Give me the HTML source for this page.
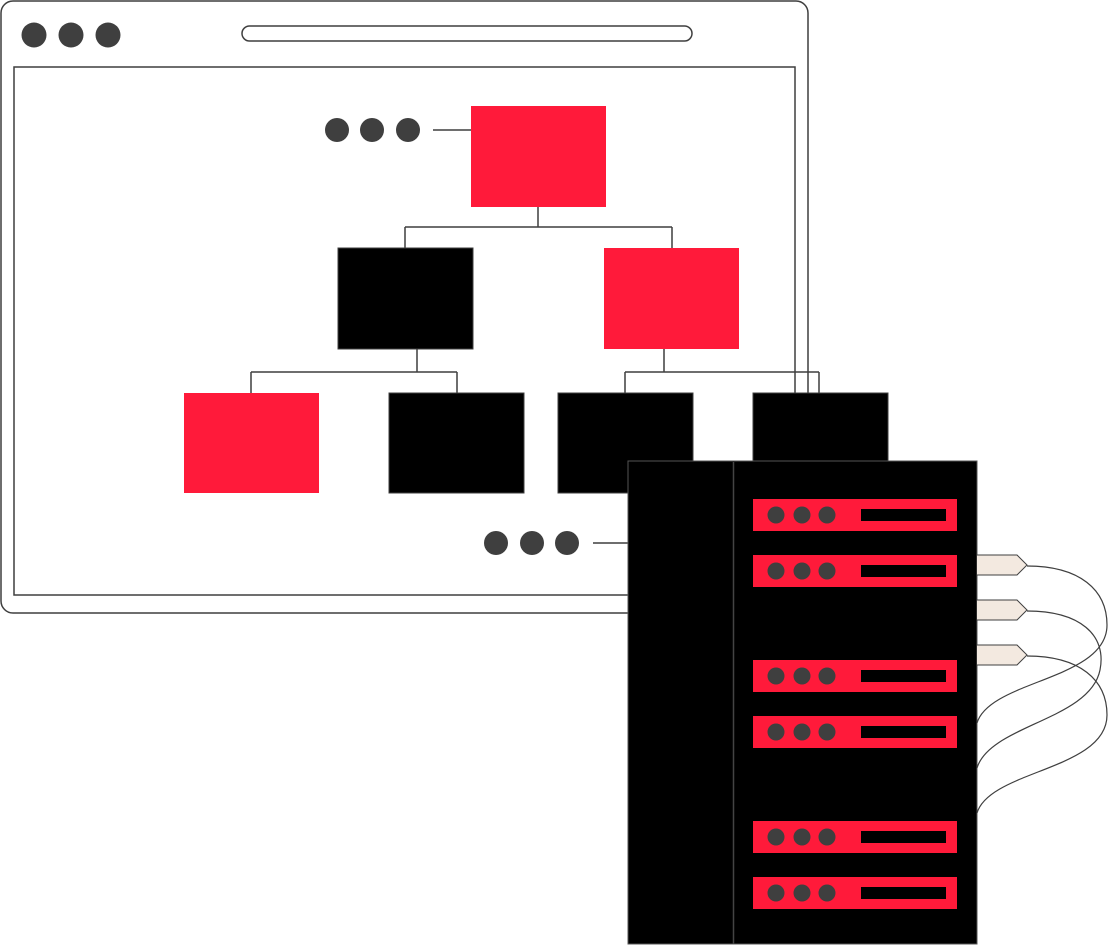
<!DOCTYPE html>
<html><head><style>body{margin:0;background:#fff}svg{display:block}</style></head><body>
<svg width="1108" height="945" viewBox="0 0 1108 945" xmlns="http://www.w3.org/2000/svg">
<g stroke="#3f3f3f" stroke-width="1.5" fill="none">
<rect x="1" y="1" width="807" height="612" rx="12"/>
<rect x="14" y="67" width="781" height="528"/>
<rect x="242" y="26" width="450" height="15" rx="7.5"/>
<path d="M433 130H507M538 207V227M405 227H672M405 227V248M672 227V248M417 349V372M251 372H457M251 372V393M457 372V393M664 349V372M625 372H819M625 372V393M819 372V393M593 543H628"/>
</g>
<g fill="#3f3f3f">
<circle cx="34" cy="35" r="12.5"/><circle cx="71" cy="35" r="12.5"/><circle cx="108" cy="35" r="12.5"/>
<circle cx="337" cy="130" r="12"/><circle cx="372" cy="130" r="12"/><circle cx="408" cy="130" r="12"/>
<circle cx="496" cy="543" r="12"/><circle cx="532" cy="543" r="12"/><circle cx="567" cy="543" r="12"/>
</g>
<g stroke="#3f3f3f" stroke-width="1">
<rect x="471" y="106" width="135" height="101" fill="#ff1a3a" stroke="none"/>
<rect x="338" y="248" width="135" height="101" fill="#000"/>
<rect x="604" y="248" width="135" height="101" fill="#ff1a3a" stroke="none"/>
<rect x="184" y="393" width="135" height="100" fill="#ff1a3a" stroke="none"/>
<rect x="389" y="393" width="135" height="100" fill="#000"/>
<rect x="558" y="393" width="135" height="100" fill="#000"/>
<rect x="753" y="393" width="135" height="100" fill="#000"/>
</g>
<rect x="628" y="461" width="349" height="483" fill="#000" stroke="#555" stroke-width="1"/>
<line x1="733.5" y1="462" x2="733.5" y2="944" stroke="#444" stroke-width="1.5"/>
<g id="s">
<rect x="753" y="499" width="204" height="32" fill="#ff1a3a"/>
<rect x="861" y="509" width="85" height="12" fill="#000"/>
<circle cx="776" cy="515" r="8.5" fill="#3f3f3f"/><circle cx="802" cy="515" r="8.5" fill="#3f3f3f"/><circle cx="827" cy="515" r="8.5" fill="#3f3f3f"/>
</g>
<use href="#s" y="56"/><use href="#s" y="161"/><use href="#s" y="217"/><use href="#s" y="322"/><use href="#s" y="378"/>
<g fill="#f3e9e0" stroke="#3f3f3f" stroke-width="1">
<path d="M977 555H1017L1027 565L1017 575H977"/>
<path d="M977 600H1017L1027 610L1017 620H977"/>
<path d="M977 645H1017L1027 655L1017 665H977"/>
</g>
<g fill="none" stroke="#3f3f3f" stroke-width="1.2">
<path d="M1027 566C1080 566 1107 590 1107 625C1107 680 990 680 977 723"/>
<path d="M1027 611C1080 611 1107 635 1100 670C1090 720 990 725 977 768"/>
<path d="M1027 656C1080 656 1107 680 1107 715C1107 770 990 770 977 813"/>
</g>
</svg>
</body></html>
